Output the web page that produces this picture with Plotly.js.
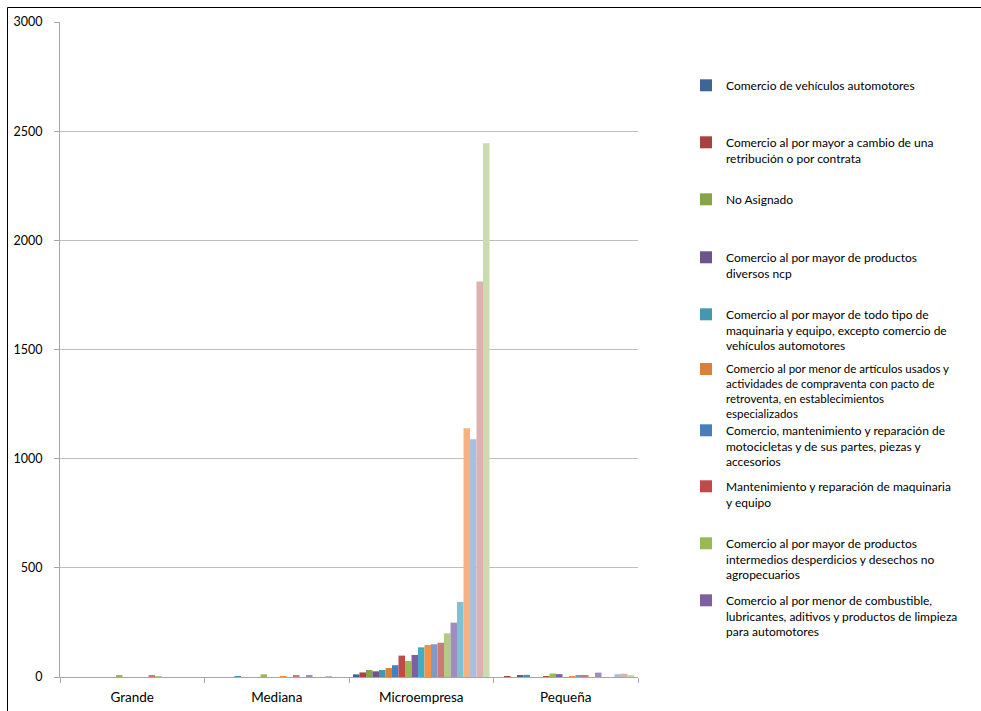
<!DOCTYPE html>
<html>
<head>
<meta charset="utf-8">
<script src="https://cdn.plot.ly/plotly-3.0.1.min.js"></script>
<style>html,body{margin:0;padding:0;background:#fff;}#chart{width:981px;height:711px;}</style>
</head>
<body>
<div id="chart"></div>
<script>
// Categories (company size)
var categories = ['Grande', 'Mediana', 'Microempresa', 'Pequeña'];

// Values per category, one entry per series (21 series, in series order)
var grande  = [0, 0, 0, 0, 0, 0, 0, 0, 5, 0, 0, 0, 0, 5, 3, 0, 0, 0, 0, 0, 0];
var mediana = [0, 0, 0, 0, 2, 0, 0, 0, 12, 0, 0, 3, 0, 6, 0, 8, 0, 0, 4, 0, 0];
var micro   = [12, 21, 32, 26, 32, 41, 54, 98, 73, 101, 136, 147, 150, 157, 200, 249, 344, 1139, 1089, 1811, 2445];
var pequena = [0, 2, 0, 6, 10, 0, 0, 2, 16, 13, 0, 4, 7, 7, 0, 20, 0, 0, 13, 15, 9];

// Series names (only the first ten appear in the legend of the original)
var seriesNames = [
  'Comercio de vehículos automotores',
  'Comercio al por mayor a cambio de una<br>retribución o por contrata',
  'No Asignado',
  'Comercio al por mayor de productos<br>diversos ncp',
  'Comercio al por mayor de todo tipo de<br>maquinaria y equipo, excepto comercio de<br>vehículos automotores',
  'Comercio al por menor de artículos usados y<br>actividades de compraventa con pacto de<br>retroventa, en establecimientos<br>especializados',
  'Comercio, mantenimiento y reparación de<br>motocicletas y de sus partes, piezas y<br>accesorios',
  'Mantenimiento y reparación de maquinaria<br>y equipo',
  'Comercio al por mayor de productos<br>intermedios desperdicios y desechos no<br>agropecuarios',
  'Comercio al por menor de combustible,<br>lubricantes, aditivos y productos de limpieza<br>para automotores',
  'Serie 11', 'Serie 12', 'Serie 13', 'Serie 14', 'Serie 15', 'Serie 16',
  'Serie 17', 'Serie 18', 'Serie 19', 'Serie 20', 'Serie 21'
];

var seriesColors = [
  '#3F6497', '#A8423F', '#86A44A', '#6E548D', '#4198AF', '#DA8137',
  '#4A7EBB', '#BE4B48', '#98B954', '#7D60A0', '#46AAC5', '#F69240',
  '#7C9ACB', '#CD7977', '#B3CB83', '#A08DBF', '#7CC1D6', '#F9B27D',
  '#A9BFDE', '#DEB1B0', '#CADBB0'
];

var FONT = 'Lato, "Open Sans", sans-serif';

// plot area in pixels: x 60..638, y 22..677
var PL = 60, PW = 578, PT = 22, PH = 655;
function px2x(px) { return (px - PL) / PW; }
function py2y(py) { return (PT + PH - py) / PH; }

var traces = [];
for (var i = 0; i < seriesNames.length; i++) {
  var t = {
    type: 'bar',
    name: seriesNames[i],
    x: categories,
    y: [grande[i], mediana[i], micro[i], pequena[i]],
    marker: {color: seriesColors[i], line: {width: 0}},
    hovertemplate: '%{x}: %{y}<extra></extra>'
  };
  if (i < 10) {
    t.showlegend = true;
    t.legend = i === 0 ? 'legend' : 'legend' + (i + 1);
  } else {
    t.showlegend = false;
  }
  traces.push(t);
}

var layout = {
  width: 981,
  height: 711,
  margin: {l: PL, r: 981 - PL - PW, t: PT, b: 711 - PT - PH, pad: 0},
  paper_bgcolor: '#ffffff',
  plot_bgcolor: '#ffffff',
  font: {family: FONT, size: 12, color: '#000000'},
  barmode: 'group',
  bargap: 0.055,
  bargroupgap: 0,
  xaxis: {
    type: 'category',
    range: [-0.5, 3.5],
    tickson: 'boundaries',
    ticks: 'outside',
    ticklen: 5,
    tickcolor: '#a6a6a6',
    showline: true,
    linecolor: '#a6a6a6',
    linewidth: 1,
    showgrid: false,
    ticklabelstandoff: 8,
    tickfont: {family: FONT, size: 13.5, color: '#000000'},
    fixedrange: true
  },
  yaxis: {
    range: [0, 3000],
    dtick: 500,
    tick0: 0,
    ticks: 'outside',
    ticklen: 5,
    tickcolor: '#a6a6a6',
    showline: true,
    linecolor: '#a6a6a6',
    linewidth: 1,
    showgrid: true,
    gridcolor: '#bfbfbf',
    gridwidth: 1,
    zeroline: false,
    ticklabelstandoff: 9,
    tickfont: {family: FONT, size: 12.5, color: '#000000'},
    fixedrange: true
  },
  shapes: [{
    type: 'rect', xref: 'paper', yref: 'paper',
    x0: px2x(7.5), x1: px2x(1000), y0: py2y(730), y1: py2y(7.5),
    line: {color: '#000000', width: 1}, fillcolor: 'rgba(0,0,0,0)', layer: 'below'
  }],
  showlegend: true
};

// each legend entry positioned like the original fixed-spacing legend
var firstLineY = [84, 141, 198, 256, 313, 368, 429, 485, 542, 599];
var legendFontSize = [12, 12, 12, 12, 12, 11.5, 12, 12, 12, 12];
for (var k = 0; k < 10; k++) {
  var key = k === 0 ? 'legend' : 'legend' + (k + 1);
  layout[key] = {
    x: px2x(686),
    xanchor: 'left',
    y: py2y(firstLineY[k] - 13),
    yanchor: 'top',
    bgcolor: 'rgba(0,0,0,0)',
    borderwidth: 0,
    valign: 'top',
    itemwidth: 30,
    itemclick: false,
    itemdoubleclick: false,
    font: {family: FONT, size: legendFontSize[k], color: '#000000'}
  };
}

Plotly.newPlot('chart', traces, layout, {displayModeBar: false});
</script>
</body>
</html>
